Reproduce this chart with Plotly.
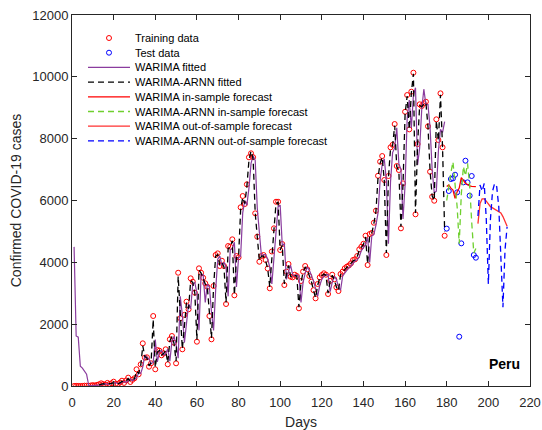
import plotly.graph_objects as go

# ---------------- data ----------------
train_days = list(range(1, 180))
train_vals = [
    1, 5, 2, 0, 2, 11, 8, 9, 16, 28,
    17, 35, 55, 87, 60, 40, 100, 65, 90, 140,
    70, 60, 110, 171, 100, 180, 270, 130, 200, 250,
    540, 378, 700, 1380, 915, 928, 625, 734, 2264, 540,
    1164, 1142, 993, 1050, 1187, 702, 1510, 1617, 1400, 734,
    3664, 2190, 1187, 2300, 2727, 2480, 3483, 3373, 3017, 1433,
    3806, 3664, 3500, 3321, 3211, 2264, 1510, 3234, 4237, 4290,
    3881, 4052, 3881, 2652, 4528, 4505, 4744, 2933, 4204, 4161,
    5780, 6145, 5886, 6523, 7397, 7526, 7400, 5585, 4828, 4020,
    4204, 4237, 4075, 3800, 3160, 4350, 5100, 5960, 5960, 4398,
    4592, 3266, 3700, 3946, 3535, 3515, 3600, 3557, 2513, 3396,
    3700, 3881, 3774, 3557, 3373, 3100, 2836, 3300, 3515, 3590,
    3645, 3600, 2975, 3400, 3600, 3450, 3192, 3072, 3622, 3700,
    3806, 3858, 3900, 3967, 4075, 4100, 4204, 4420, 4505, 4600,
    4860, 3913, 4916, 4950, 5281, 5670, 6800, 7254, 7438, 6662,
    4237, 6792, 7720, 7800, 8473, 7115, 6986, 5100, 6555, 8870,
    9411, 8301, 9519, 10133, 5553, 7826, 9111, 9055, 9142, 9195,
    8400, 6930, 6122, 5993, 8625, 7956, 9466, 7720, 4860,
]

test_days = list(range(180, 195))
test_vals = [5090, 6306, 6694, 6716, 6834, 6264, 1595, 4614, 6587, 7287,
             6587, 6156, 6792, 4237, 4150]

warima_fit_days = list(range(1, 180))
warima_fit_vals = [
    4500, 1620, 1580, 640, 580, 460, 380, 30, 5, 10,
    15, 25, 20, 35, 60, 75, 55, 70, 75, 100,
    110, 80, 75, 120, 150, 120, 160, 230, 170, 210,
    260, 420, 400, 620, 1000, 930, 880, 720, 760, 1500,
    780, 1100, 1150, 1000, 1050, 1200, 800, 1450, 1600, 1350,
    900, 2900, 2300, 1400, 2000, 2650, 2500, 3300, 3350, 3000,
    1800, 3600, 3600, 2700, 3300, 3200, 2400, 1800, 3100, 4100,
    4200, 3900, 4000, 3850, 2900, 4400, 4450, 4650, 3200, 4150,
    4200, 5600, 6000, 5850, 6400, 7200, 7450, 7300, 5750, 5000,
    4200, 4250, 4250, 4100, 3850, 3300, 4250, 5000, 5800, 5850,
    4550, 4600, 3450, 3700, 3900, 3600, 3550, 3600, 3550, 2700,
    3350, 3650, 3850, 3750, 3600, 3400, 3150, 2900, 3250, 3450,
    3550, 3600, 3600, 3050, 3350, 3550, 3450, 3200, 3100, 3550,
    3650, 3750, 3820, 3880, 3950, 4050, 4080, 4180, 4380, 4480,
    4580, 4800, 4000, 4850, 4900, 5200, 5600, 6650, 7150, 7350,
    6650, 4600, 6600, 7550, 7700, 8350, 7200, 7000, 5400, 6500,
    8650, 9250, 8350, 9400, 9650, 7150, 7700, 8950, 9600, 9100,
    9100, 8350, 7000, 6250, 6300, 7600, 8300, 8200, 8550,
]

arnn_fit_days = list(range(13, 180))
arnn_fit_vals = [
    40, 70, 75, 50, 85, 80, 80, 120,
    90, 65, 100, 150, 120, 160, 240, 150, 190, 240,
    480, 400, 650, 1300, 950, 900, 650, 760, 2150, 600,
    1100, 1150, 1000, 1050, 1150, 750, 1450, 1600, 1380, 800,
    3550, 2250, 1200, 1950, 2700, 2500, 3400, 3350, 3000, 1500,
    3750, 3650, 3450, 3300, 3200, 2300, 1550, 3200, 4200, 4250,
    3900, 4000, 3850, 2700, 4450, 4480, 4700, 2950, 4150, 4150,
    5700, 6100, 5900, 6450, 7300, 7600, 7350, 5600, 4850, 4050,
    4200, 4200, 4050, 3800, 3200, 4300, 5050, 5900, 5950, 4400,
    4550, 3300, 3650, 3900, 3550, 3500, 3580, 3550, 2550, 3350,
    3680, 3850, 3750, 3550, 3380, 3100, 2850, 3250, 3500, 3570,
    3620, 3580, 3000, 3380, 3580, 3440, 3200, 3080, 3600, 3680,
    3780, 3840, 3880, 3950, 4050, 4080, 4180, 4400, 4480, 4580,
    4820, 3950, 4880, 4940, 5250, 5650, 6750, 7200, 7400, 6650,
    4300, 6750, 7680, 7780, 8420, 7100, 6950, 5150, 6520, 8800,
    9380, 8300, 9480, 10100, 5600, 7800, 9080, 9030, 9120, 9170,
    8380, 6950, 6150, 6000, 8580, 7930, 9420, 7700, 5000,
]

insample_days = list(range(180, 195))
warima_in_vals = [6450, 6500, 6400, 6340, 6070, 6285, 6400, 6740, 6650, 6560,
                  6520, 6470, 6460, 6460, 6450]
arnn_in_vals = [6000, 6500, 6900, 7250, 6600, 5800, 4600, 6200, 7100, 6800,
                7200, 6500, 5300, 4300, 4450]

oos_days = list(range(195, 210))
warima_oos_vals = [5250, 5900, 6050, 6050, 5980, 5900, 5800, 5760, 5720, 5690,
                   5650, 5600, 5480, 5330, 5170]
arnn_oos_vals = [5500, 6500, 6300, 6550, 5400, 3300, 5400, 6300, 6550, 6450,
                 5800, 3900, 2550, 4400, 5150]

x_ticks = list(range(0, 221, 20))
y_ticks = list(range(0, 12001, 2000))

# ---------------- styles ----------------
FONT = "Liberation Sans, Arial, Helvetica, sans-serif"
AX = "#262626"
W, H = 542, 430
ML, MR, MT, MB = 72, 12, 15, 44
PW, PH = W - ML - MR, H - MT - MB

series = [
    # name, kind, color, dash
    ("Training data", "marker", "#FF0000", None),
    ("Test data", "marker", "#0000FF", None),
    ("WARIMA fitted", "line", "#8A3C9E", "solid"),
    ("WARIMA-ARNN fitted", "line", "#000000", "6px,4px"),
    ("WARIMA in-sample forecast", "line", "#FF0000", "solid"),
    ("WARIMA-ARNN in-sample forecast", "line", "#6FD02F", "6px,4px"),
    ("WARIMA out-of-sample forecast", "line", "#FF3030", "solid"),
    ("WARIMA-ARNN out-of-sample forecast", "line", "#0000FF", "6px,4px"),
]
data_xy = [
    (train_days, train_vals), (test_days, test_vals),
    (warima_fit_days, warima_fit_vals), (arnn_fit_days, arnn_fit_vals),
    (insample_days, warima_in_vals), (insample_days, arnn_in_vals),
    (oos_days, warima_oos_vals), (oos_days, arnn_oos_vals),
]

fig = go.Figure()
for (name, kind, color, dash), (xs, ys) in zip(series, data_xy):
    if kind == "marker":
        fig.add_trace(go.Scatter(x=xs, y=ys, mode="markers", name=name, showlegend=False,
                                 marker=dict(symbol="circle-open", size=5, color=color,
                                             line=dict(width=1, color=color))))
    else:
        fig.add_trace(go.Scatter(x=xs, y=ys, mode="lines", name=name, showlegend=False,
                                 line=dict(color=color, width=1.2 if name == "WARIMA fitted" else 1.3,
                                           dash=dash)))

# ---- hand-laid legend (MATLAB style, no box) ----
def px2paper_x(px):
    return (px - ML) / PW

def px2paper_y(py):
    return (H - MB - py) / PH

shapes = []
annotations = []
row0, row_step = 38, 14.7
for i, (name, kind, color, dash) in enumerate(series):
    cy = px2paper_y(row0 + i * row_step)
    if kind == "marker":
        shapes.append(dict(type="circle", xref="paper", yref="paper",
                           xsizemode="pixel", ysizemode="pixel",
                           xanchor=px2paper_x(109), yanchor=cy,
                           x0=-2.5, x1=2.5, y0=-2.5, y1=2.5,
                           line=dict(color=color, width=1), fillcolor="rgba(0,0,0,0)"))
    else:
        shapes.append(dict(type="line", xref="paper", yref="paper",
                           x0=px2paper_x(88), x1=px2paper_x(130), y0=cy, y1=cy,
                           line=dict(color=color, width=1.3, dash=dash)))
    annotations.append(dict(x=px2paper_x(133), y=cy, xref="paper", yref="paper",
                            text=name, showarrow=False, xanchor="left", yanchor="middle",
                            font=dict(family=FONT, size=11, color="#000000")))

annotations.append(dict(x=216, y=700, text="<b>Peru</b>", showarrow=False,
                        xanchor="right", yanchor="middle",
                        font=dict(family=FONT, size=14, color="#000000")))

axis_common = dict(showgrid=False, zeroline=False, showline=True, linecolor=AX, linewidth=1,
                   mirror="ticks", ticks="inside", ticklen=5, tickcolor=AX,
                   tickformat="d", automargin=False,
                   tickfont=dict(family=FONT, size=13, color=AX))
fig.update_xaxes(range=[0, 220], tickvals=x_ticks, ticklabelstandoff=4,
                 title=dict(text="Days", font=dict(family=FONT, size=14, color=AX), standoff=9),
                 **axis_common)
fig.update_yaxes(range=[0, 12000], tickvals=y_ticks,
                 title=dict(text="Confirmed COVID-19 cases", font=dict(family=FONT, size=14, color=AX),
                            standoff=7),
                 **axis_common)

fig.update_layout(
    width=W, height=H,
    margin=dict(l=ML, r=MR, t=MT, b=MB),
    paper_bgcolor="white", plot_bgcolor="white",
    font=dict(family=FONT, color=AX),
    shapes=shapes, annotations=annotations,
    showlegend=False,
)

fig.write_html("out.html")
